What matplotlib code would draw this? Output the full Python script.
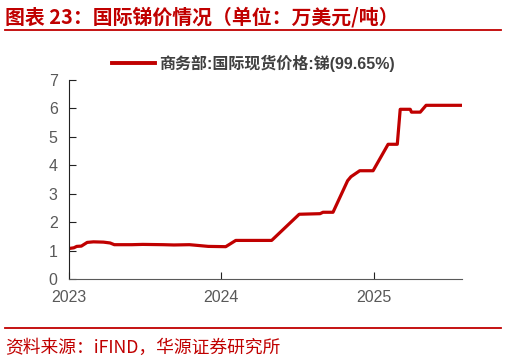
import matplotlib
matplotlib.use("Agg")
import matplotlib.pyplot as plt
import matplotlib.dates as mdates
import pandas as pd

plt.rcParams["font.family"] = ["Liberation Sans", "Noto Sans CJK SC", "DejaVu Sans"]

# antimony price, 10k USD / tonne
dates = [
    "2023-01-03", "2023-01-13", "2023-01-20", "2023-01-31", "2023-02-14",
    "2023-03-01", "2023-03-25", "2023-04-10", "2023-04-20", "2023-06-01",
    "2023-06-27", "2023-08-15", "2023-09-10", "2023-10-17", "2023-11-09",
    "2023-12-01", "2024-01-12", "2024-02-05", "2024-05-01", "2024-07-06",
    "2024-08-25", "2024-09-01", "2024-09-25", "2024-10-30", "2024-11-07",
    "2024-11-28", "2024-12-30", "2025-02-04", "2025-02-26", "2025-03-05",
    "2025-03-29", "2025-04-01", "2025-04-22", "2025-05-06", "2025-07-30",
]
prices = [
    1.08, 1.10, 1.15, 1.16, 1.29,
    1.31, 1.30, 1.27, 1.21, 1.21,
    1.22, 1.21, 1.20, 1.21, 1.18,
    1.15, 1.14, 1.36, 1.36, 2.28,
    2.30, 2.35, 2.35, 3.46, 3.60,
    3.81, 3.81, 4.74, 4.74, 5.97,
    5.97, 5.87, 5.87, 6.11, 6.11,
]
series_name = "商务部:国际现货价格:锑(99.65%)"
title = "图表 23：国际锑价情况（单位：万美元/吨）"
source = "资料来源：iFIND，华源证券研究所"

red = "#C00000"
grey = "#595959"

x = pd.to_datetime(dates)

fig = plt.figure(figsize=(5.06, 3.62), dpi=100)
ax = fig.add_axes([0.136, 0.229, 0.777, 0.550])
ax.plot(x, prices, color=red, lw=2.3, label=series_name)

ax.set_ylim(0, 7)
ax.set_xlim(pd.Timestamp("2023-01-01"), pd.Timestamp("2025-07-31"))
ax.xaxis.set_major_locator(mdates.YearLocator())
ax.xaxis.set_major_formatter(mdates.DateFormatter("%Y"))
ax.set_yticks(range(0, 8))

for s in ["top", "right"]:
    ax.spines[s].set_visible(False)
ax.spines["left"].set_color("#222222")
ax.spines["bottom"].set_color(grey)
ax.tick_params(axis="y", direction="in", length=5, colors="#222222",
               labelcolor=grey, labelsize=11.5, pad=8)
ax.tick_params(axis="x", direction="in", length=5, colors="#222222",
               labelcolor=grey, labelsize=11.5, pad=8)

leg = ax.legend(loc="center", bbox_to_anchor=(0.50, 0.826),
                bbox_transform=fig.transFigure, frameon=False,
                handlelength=2.7, handletextpad=0.25,
                prop={"size": 11.5, "weight": "bold"}, labelcolor="#404040")
for h in leg.get_lines():
    h.set_linewidth(2.8)

fig.text(0.01, 0.953, title, color=red, fontsize=14.3, fontweight="bold",
         va="center", ha="left", family=["Noto Sans CJK SC", "DejaVu Sans"])
fig.add_artist(plt.Line2D([0.01, 0.99], [0.917, 0.917], color=red, lw=1.3))
fig.add_artist(plt.Line2D([0.01, 0.99], [0.094, 0.094], color=red, lw=1.3))
fig.text(0.01, 0.04, source, color=red, fontsize=12.8, va="center", ha="left",
         family=["Noto Sans CJK SC", "DejaVu Sans"])

fig.savefig("out.png", dpi=100)
